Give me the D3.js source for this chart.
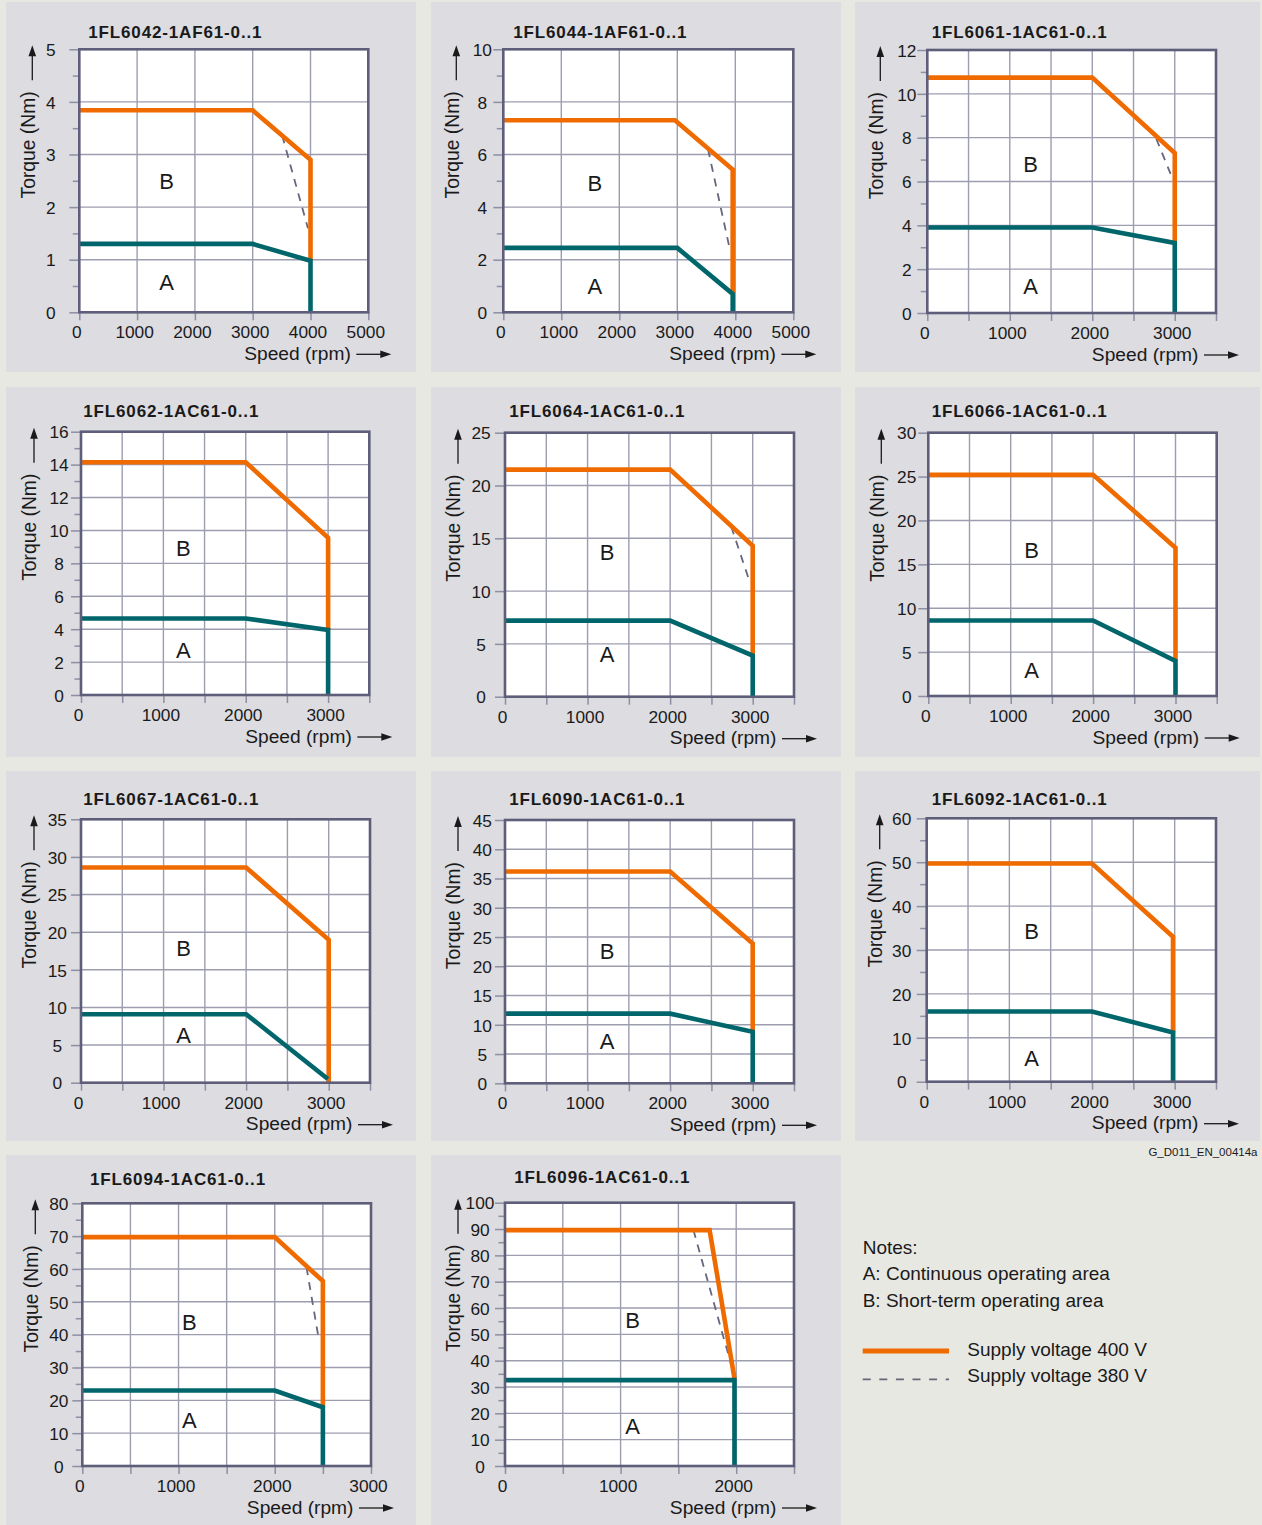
<!DOCTYPE html>
<html><head><meta charset="utf-8">
<script src="https://cdn.jsdelivr.net/npm/d3@7"></script>
<style>
html,body{margin:0;padding:0;background:#e8e8e3;}
svg{display:block;font-family:"Liberation Sans",Arial,sans-serif;}
</style></head><body>
<svg id="c" width="1262" height="1525"></svg>
<script>
// ---------------- DATA ----------------
const titles = ["1FL6042-1AF61-0..1","1FL6044-1AF61-0..1","1FL6061-1AC61-0..1",
  "1FL6062-1AC61-0..1","1FL6064-1AC61-0..1","1FL6066-1AC61-0..1",
  "1FL6067-1AC61-0..1","1FL6090-1AC61-0..1","1FL6092-1AC61-0..1",
  "1FL6094-1AC61-0..1","1FL6096-1AC61-0..1"];
const speedMax = [5000,5000,3500,3500,3500,3500,3500,3500,3500,3000,2500];
const speedGridStep = [1000,1000,500,500,500,500,500,500,500,500,500];
const speedTickLabels = [[0,1000,2000,3000,4000,5000],[0,1000,2000,3000,4000,5000],
  [0,1000,2000,3000],[0,1000,2000,3000],[0,1000,2000,3000],[0,1000,2000,3000],
  [0,1000,2000,3000],[0,1000,2000,3000],[0,1000,2000,3000],[0,1000,2000,3000],[0,1000,2000]];
const torqueMax = [5,10,12,16,25,30,35,45,60,80,100];
const torqueMajorStep = [1,2,2,2,5,5,5,5,10,10,10];
const torqueMinorStep = [0.5,1,1,1,0,0,0,0,5,5,5];

// Supply voltage 400 V, short-term limit (B) — [speed rpm, torque Nm]
const curve400V = [
  [[0,3.84],[3000,3.84],[4000,2.9],[4000,0.98]],
  [[0,7.3],[2960,7.3],[3955,5.43],[3955,0.7]],
  [[0,10.74],[2000,10.74],[3000,7.3],[3000,3.2]],
  [[0,14.14],[2000,14.14],[3000,9.55],[3000,3.95]],
  [[0,21.5],[2000,21.5],[3000,14.3],[3000,3.9]],
  [[0,25.2],[2000,25.2],[3000,16.9],[3000,4.0]],
  [[0,28.6],[2000,28.6],[3000,19.0],[3000,0]],
  [[0,36.2],[2000,36.2],[3000,23.9],[3000,8.8]],
  [[0,49.7],[2000,49.7],[2980,33],[2980,11.2]],
  [[0,69.7],[2000,69.7],[2500,56.3],[2500,17.9]],
  [[0,89.6],[1770,89.6],[1985,33.3]]
];
// Continuous operating limit (A)
const curveContinuous = [
  [[0,1.3],[3000,1.3],[4000,0.98],[4000,0]],
  [[0,2.45],[3000,2.45],[3955,0.7],[3955,0]],
  [[0,3.9],[2000,3.9],[3000,3.2],[3000,0]],
  [[0,4.65],[2000,4.65],[3000,3.95],[3000,0]],
  [[0,7.2],[2000,7.2],[3000,3.9],[3000,0]],
  [[0,8.6],[2000,8.6],[3000,4.0],[3000,0]],
  [[0,9.1],[2000,9.1],[2990,0.5]],
  [[0,11.9],[2000,11.9],[3000,8.8],[3000,0]],
  [[0,16.0],[2000,16.0],[2980,11.2],[2980,0]],
  [[0,23.0],[2000,23.0],[2500,17.9],[2500,0]],
  [[0,32.6],[1985,32.6],[1985,0]]
];
// Supply voltage 380 V (dashed, where it departs from 400 V curve)
const curve380V = [
  [[3510,3.36],[3955,1.6]],
  [[3530,6.2],[3910,2.35]],
  [[2776,7.95],[2960,6.25]],
  [],
  [[2740,16.1],[2950,11.2]],
  [],[],[],[],
  [[2330,60.5],[2455,39]],
  [[1630,89.6],[1977,35.3]]
];
const labelB = [[1510,2.5],[1580,4.9],[1252,6.8],[1243,8.9],[1235,13.7],[1255,16.6],[1243,17.9],[1235,22.6],[1270,34.3],[1113,43.7],[1104,55.4]];
const labelA = [[1510,0.58],[1580,1.0],[1252,1.24],[1243,2.76],[1235,4.0],[1255,2.93],[1243,6.36],[1235,7.3],[1270,5.3],[1113,13.9],[1104,15.1]];

const notes = ["Notes:","A: Continuous operating area","B: Short-term operating area"];
const legendItems = ["Supply voltage 400 V","Supply voltage 380 V"];
const figureId = "G_D011_EN_00414a";

// ---------------- LAYOUT ----------------
const layout = [
 {panel:[6,2,416,372],   plot:[79.3,49.3,368.3,312.3],  tdx:9,   ty:37.5,  ylo:28.5},
 {panel:[431,2,841,372], plot:[503.3,49.3,793.3,312.3], tdx:10,  ty:37.5,  ylo:21},
 {panel:[855,2,1260,372],plot:[927.3,50,1216,313],      tdx:4.4, ty:37.5,  ylo:20.5},
 {panel:[6,387,416,757], plot:[81,431.7,369.3,695],     tdx:2.3, ty:416.5, ylo:22},
 {panel:[431,387,841,757],plot:[505,432.7,794,696.7],   tdx:4.3, ty:416.5, ylo:24},
 {panel:[855,387,1260,757],plot:[928.3,432.7,1216.7,696],tdx:3.4,ty:416.5, ylo:21.6},
 {panel:[6,771,416,1141],plot:[81,819.3,370,1082.7],    tdx:2.3, ty:804.5, ylo:23.7},
 {panel:[431,771,841,1141],plot:[505,820,794,1083.3],   tdx:4.3, ty:804.5, ylo:22.7},
 {panel:[855,771,1260,1141],plot:[926.7,818.3,1216,1081.7],tdx:5,ty:804.5, ylo:25},
 {panel:[6,1155,416,1525],plot:[82.3,1203.3,371,1466],  tdx:7.7, ty:1185,  ylo:23.5},
 {panel:[431,1155,841,1525],plot:[505,1202.7,794,1466], tdx:9.3, ty:1183.3,ylo:25}
];
const C = {bg:"#e8e8e3", panel:"#dcdce1", border:"#5e5e7a", grid:"#9d9db0", tick:"#8e8ea4",
  orange:"#ef6b00", teal:"#00666b", dash:"#66667e", text:"#1a1a1a"};

const svg = d3.select("#c");
svg.append("rect").attr("width",1262).attr("height",1525).attr("fill",C.bg);

function arrowHead(g, x, y, dir){ // dir: 'right' or 'up'
  const p = dir==="right" ? [[x,y],[x-11,y-3.8],[x-11,y+3.8]] : [[x,y],[x-3.8,y+11],[x+3.8,y+11]];
  g.append("path").attr("d","M"+p.map(d=>d.join(",")).join("L")+"Z").attr("fill",C.text);
}

titles.forEach((title,i)=>{
  const L = layout[i];
  const [x0,y0,x1,y1] = L.plot;
  const g = svg.append("g");
  g.append("rect").attr("x",L.panel[0]).attr("y",L.panel[1])
    .attr("width",L.panel[2]-L.panel[0]).attr("height",L.panel[3]-L.panel[1]).attr("fill",C.panel);
  const x = d3.scaleLinear().domain([0,speedMax[i]]).range([x0,x1]);
  const y = d3.scaleLinear().domain([0,torqueMax[i]]).range([y1,y0]);

  g.append("rect").attr("x",x0).attr("y",y0).attr("width",x1-x0).attr("height",y1-y0).attr("fill","#fff");

  // grid
  const xs = d3.range(speedGridStep[i], speedMax[i]-1, speedGridStep[i]);
  g.selectAll(null).data(xs).join("line")
    .attr("x1",d=>x(d)).attr("x2",d=>x(d)).attr("y1",y0).attr("y2",y1)
    .attr("stroke",C.grid).attr("stroke-width",1.4);
  const ys = d3.range(torqueMajorStep[i], torqueMax[i]-1e-9, torqueMajorStep[i]);
  g.selectAll(null).data(ys).join("line")
    .attr("x1",x0).attr("x2",x1).attr("y1",d=>y(d)).attr("y2",d=>y(d))
    .attr("stroke",C.grid).attr("stroke-width",1.4);

  // y axis major
  const yTicks = d3.range(0, torqueMax[i]+1e-9, torqueMajorStep[i]);
  const ya = g.append("g").attr("transform",`translate(${x0},0)`)
    .call(d3.axisLeft(y).tickValues(yTicks).tickSize(10).tickFormat(d3.format("d")));
  ya.select(".domain").remove();
  ya.selectAll("line").attr("stroke",C.tick).attr("stroke-width",1.5);
  ya.selectAll("text").attr("x",-L.ylo).attr("dy","0.36em").attr("text-anchor","middle")
    .attr("font-size",17.3).attr("fill",C.text).attr("font-family","Liberation Sans, Arial, sans-serif");
  if (torqueMinorStep[i]) {
    const minor = d3.range(torqueMinorStep[i], torqueMax[i], torqueMajorStep[i]);
    const ym = g.append("g").attr("transform",`translate(${x0},0)`)
      .call(d3.axisLeft(y).tickValues(minor).tickSize(6.5).tickFormat(""));
    ym.select(".domain").remove();
    ym.selectAll("line").attr("stroke",C.tick).attr("stroke-width",1.5);
  }
  // x axis
  const xTicks = d3.range(0, speedMax[i]+1, speedGridStep[i]);
  const labs = speedTickLabels[i];
  const xa = g.append("g").attr("transform",`translate(0,${y1})`)
    .call(d3.axisBottom(x).tickValues(xTicks).tickSize(8).tickFormat(d=>labs.includes(d)?String(d):""));
  xa.select(".domain").remove();
  xa.selectAll("line").attr("stroke",C.tick).attr("stroke-width",1.5);
  xa.selectAll("text").attr("y",26).attr("dy",0).attr("dx",-3)
    .attr("font-size",17.3).attr("fill",C.text).attr("font-family","Liberation Sans, Arial, sans-serif");

  // curves
  const line = d3.line().x(d=>x(d[0])).y(d=>y(d[1]));
  if (curve380V[i].length)
    g.append("path").attr("d",line(curve380V[i])).attr("fill","none")
      .attr("stroke",C.dash).attr("stroke-width",1.8).attr("stroke-dasharray","8,7");
  g.append("path").attr("d",line(curve400V[i])).attr("fill","none")
    .attr("stroke",C.orange).attr("stroke-width",4.6).attr("stroke-linejoin","miter");
  g.append("path").attr("d",line(curveContinuous[i])).attr("fill","none")
    .attr("stroke",C.teal).attr("stroke-width",4.6).attr("stroke-linejoin","miter");

  // border
  g.append("rect").attr("x",x0).attr("y",y0).attr("width",x1-x0).attr("height",y1-y0)
    .attr("fill","none").attr("stroke",C.border).attr("stroke-width",2.6);

  // area labels
  [["B",labelB[i]],["A",labelA[i]]].forEach(([t,p])=>{
    g.append("text").attr("x",x(p[0])).attr("y",y(p[1])).attr("dy","0.36em")
      .attr("text-anchor","middle").attr("font-size",22).attr("fill",C.text).text(t);
  });

  // title
  g.append("text").attr("x",x0+L.tdx).attr("y",L.ty).attr("font-size",17).attr("font-weight","bold")
    .attr("letter-spacing","0.85px").attr("fill",C.text).text(title);

  // x axis title + arrow
  const xb = y1+47.5;
  g.append("text").attr("x",x1-17.5).attr("y",xb).attr("text-anchor","end")
    .attr("font-size",19.2).attr("fill",C.text).text("Speed (rpm)");
  g.append("line").attr("x1",x1-12).attr("x2",x1+14).attr("y1",xb-5.5).attr("y2",xb-5.5)
    .attr("stroke",C.text).attr("stroke-width",1.3);
  arrowHead(g, x1+23, xb-5.5, "right");

  // y axis title + arrow
  const ax = x0-47;
  g.append("text").attr("transform",`translate(${x0-44.7},${y0+42}) rotate(-90)`)
    .attr("text-anchor","end").attr("font-size",19.3).attr("fill",C.text).text("Torque (Nm)");
  g.append("line").attr("x1",ax).attr("x2",ax).attr("y1",y0+31).attr("y2",y0+5)
    .attr("stroke",C.text).attr("stroke-width",1.3);
  arrowHead(g, ax, y0-4, "up");
});

// figure id
svg.append("text").attr("x",1257.5).attr("y",1155.5).attr("text-anchor","end")
  .attr("font-size",11.5).attr("fill",C.text).text(figureId);

// notes
const ng = svg.append("g");
notes.forEach((t,k)=>{
  ng.append("text").attr("x",862.7).attr("y",[1254.3,1280,1306.5][k])
    .attr("font-size",19).attr("fill",C.text).text(t);
});
ng.append("line").attr("x1",862.7).attr("x2",949).attr("y1",1351).attr("y2",1351)
  .attr("stroke",C.orange).attr("stroke-width",5);
ng.append("line").attr("x1",862.7).attr("x2",949).attr("y1",1379.3).attr("y2",1379.3)
  .attr("stroke",C.dash).attr("stroke-width",1.8).attr("stroke-dasharray","8,8.6");
legendItems.forEach((t,k)=>{
  ng.append("text").attr("x",967.3).attr("y",[1356,1381.7][k])
    .attr("font-size",19).attr("fill",C.text).text(t);
});
</script>
</body></html>
